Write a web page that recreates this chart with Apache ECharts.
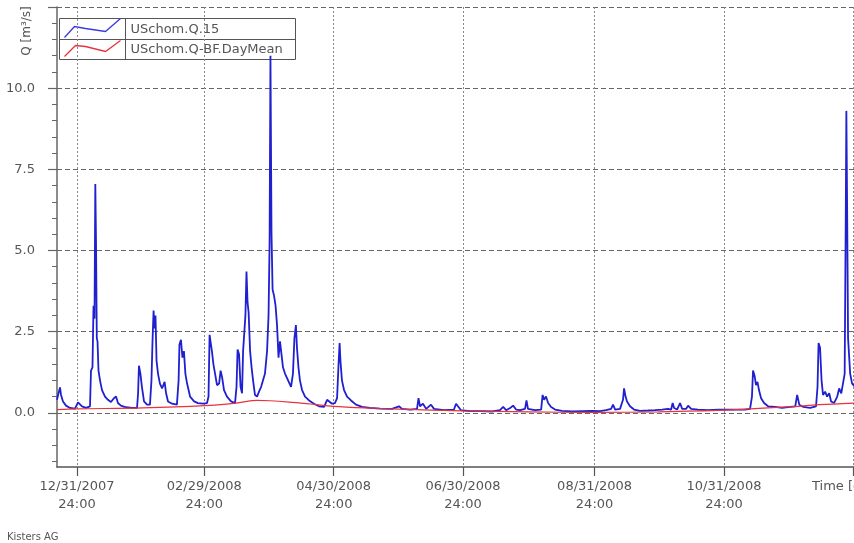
<!DOCTYPE html>
<html><head><meta charset="utf-8">
<script src="https://cdn.jsdelivr.net/npm/echarts@6/dist/echarts.min.js"></script>
<style>html,body{margin:0;padding:0;background:#fff}#c{width:854px;height:543px}</style>
</head><body><div id="c"></div>
<script>
const seriesNames = ['USchom.Q.15', 'USchom.Q-BF.DayMean'];

// x values: days since 2008-01-01 00:00 (= 12/31/2007 24:00)
const qDays = [-9.43,-8.72,-8.0,-7.54,-6.6,-5.19,-3.3,-0.94,0.47,1.41,2.36,4.24,6.13,6.6,7.3,7.78,8.25,8.63,8.96,9.33,9.67,10.14,10.84,11.79,13.2,14.6,16.0,17.4,18.4,19.3,20.7,23.1,25.9,28.3,28.8,29.2,29.9,30.6,31.6,33.0,34.4,35.1,35.6,36.1,36.5,37.0,37.5,38.2,39.1,40.1,41.3,42.0,42.9,44.8,47.1,47.9,48.3,49.0,49.7,50.4,51.1,51.9,53.3,55.2,57.0,59.4,61.3,62.0,62.5,63.2,63.6,64.3,65.1,66.0,67.0,67.7,68.4,69.3,70.7,72.6,74.5,75.2,75.7,76.4,77.1,77.8,78.3,79.0,79.4,79.9,80.4,80.9,81.6,82.3,83.0,83.9,84.9,85.8,86.8,87.7,88.6,89.6,90.3,90.8,91.2,91.7,92.2,92.9,93.6,94.3,95.0,95.7,96.4,97.1,98.1,99.5,100.9,101.8,102.5,103.2,103.7,104.4,105.1,106.1,107.5,109.4,111.7,114.1,116.5,117.9,118.8,120.2,121.6,122.6,123.3,123.8,124.2,124.9,125.9,127.3,129.2,131.5,134.4,138.1,142.9,148.5,151.8,153.2,157.0,160.3,161.0,161.7,163.1,164.6,166.9,168.3,173.0,177.7,178.7,179.6,181.0,185.3,190.0,195.7,199.4,200.9,202.3,204.2,205.6,207.0,208.9,211.2,211.9,212.6,215.9,218.8,219.5,220.2,221.1,222.1,223.5,225.4,228.7,233.4,238.1,242.8,246.6,249.4,251.8,252.7,253.7,256.0,257.4,257.9,258.6,259.3,260.7,262.6,265.5,269.2,272.5,275.8,278.6,280.1,280.8,281.5,282.9,284.3,285.3,287.1,288.1,289.5,292.8,297.5,302.2,306.9,311.6,314.9,317.3,318.2,318.7,319.4,320.1,320.8,321.5,322.5,323.9,325.8,329.1,332.4,336.2,338.6,339.5,340.5,342.4,345.6,348.4,349.1,349.6,350.3,351.0,351.7,352.7,353.6,354.6,355.5,356.9,358.4,359.3,360.3,361.2,361.9,362.4,362.7,363.1,363.5,364.5,365.4,366.8];
const qValues = [0.4,0.6,0.78,0.55,0.35,0.22,0.15,0.13,0.32,0.35,0.2,0.15,0.2,1.3,1.4,3.3,2.9,7.05,5.3,2.3,2.2,1.3,1.0,0.7,0.5,0.4,0.33,0.45,0.5,0.3,0.22,0.17,0.15,0.15,0.6,1.45,1.2,0.8,0.35,0.25,0.25,1.0,2.2,3.15,2.6,3.0,1.6,1.2,0.9,0.75,0.95,0.6,0.35,0.28,0.25,1.0,2.1,2.25,1.7,1.9,1.2,0.9,0.5,0.35,0.3,0.28,0.3,0.5,2.4,2.35,1.9,1.5,1.2,0.85,0.9,1.3,1.1,0.7,0.5,0.35,0.3,0.8,1.95,1.8,0.8,0.6,1.9,2.6,3.0,4.35,3.4,3.1,1.9,1.4,1.0,0.55,0.5,0.65,0.8,1.0,1.2,1.9,3.0,5.3,11.0,5.5,3.8,3.6,3.3,2.7,1.7,2.2,1.8,1.4,1.2,1.0,0.8,1.2,2.3,2.7,2.0,1.4,1.0,0.7,0.5,0.38,0.28,0.2,0.18,0.4,0.35,0.28,0.3,0.45,1.5,2.15,1.6,1.0,0.7,0.5,0.38,0.25,0.18,0.15,0.13,0.12,0.2,0.12,0.1,0.12,0.45,0.2,0.28,0.12,0.25,0.12,0.08,0.1,0.28,0.2,0.08,0.05,0.05,0.04,0.08,0.18,0.08,0.15,0.22,0.1,0.08,0.12,0.38,0.12,0.08,0.1,0.55,0.4,0.5,0.3,0.18,0.1,0.06,0.04,0.05,0.06,0.05,0.08,0.12,0.25,0.1,0.12,0.4,0.75,0.5,0.35,0.2,0.1,0.06,0.07,0.08,0.1,0.12,0.1,0.3,0.15,0.1,0.3,0.12,0.12,0.22,0.12,0.1,0.08,0.1,0.1,0.1,0.1,0.12,0.5,1.3,1.15,0.85,0.95,0.7,0.45,0.3,0.2,0.18,0.15,0.18,0.2,0.55,0.25,0.18,0.15,0.2,0.8,2.15,2.0,1.0,0.55,0.65,0.5,0.6,0.35,0.3,0.5,0.75,0.6,0.55,1.2,5.9,9.3,6.0,2.3,1.2,0.9,0.8];

const bfDays = [-9.43,0,31,60,75,85,91,100,110,121,140,152,182,213,244,274,305,335,350,366.8];
const bfValues = [0.1,0.12,0.15,0.22,0.3,0.38,0.37,0.33,0.27,0.2,0.14,0.11,0.06,0.03,0.01,0.03,0.08,0.18,0.25,0.3];

const xTickDays = [0,60,121,182,244,305,366];
const xLabelDays = [0,60,121,182,244,305];
const xTickLabels = ['12/31/2007\n24:00','02/29/2008\n24:00','04/30/2008\n24:00','06/30/2008\n24:00','08/31/2008\n24:00','10/31/2008\n24:00'];
const yMajorTicks = [0,2.5,5,7.5,10,12.5];
const yLabelTicks = [0,2.5,5,7.5,10];
const yMinorTicks = [-1.5,-1,-0.5,0,0.5,1,1.5,2,2.5,3,3.5,4,4.5,5,5.5,6,6.5,7,7.5,8,8.5,9,9.5,10,10.5,11,11.5,12,12.5];

const qData = qDays.map((d, i) => [d, qValues[i]]);
const bfData = bfDays.map((d, i) => [d, bfValues[i]]);

const FONT = 'DejaVu Sans';
const TXT = '#555';
const chart = echarts.init(document.getElementById('c'), null, {renderer: 'canvas'});
chart.setOption({
  animation: false,
  backgroundColor: '#fff',
  grid: {left: 57, right: 0, top: 7, bottom: 76, containLabel: false},
  xAxis: {
    type: 'value', min: -9.43, max: 366.3,
    axisLine: {show: true, onZero: false, lineStyle: {color: '#555', width: 1.5}},
    axisTick: {show: true, length: 9, customValues: xTickDays, lineStyle: {color: '#555', width: 1.2}},
    axisLabel: {
      customValues: xLabelDays, margin: 11, color: TXT, fontFamily: FONT, fontSize: 13, lineHeight: 18,
      formatter: v => xTickLabels[xLabelDays.indexOf(Math.round(v))] || ''
    },
    splitLine: {show: true, lineStyle: {color: '#888', type: [2, 2], width: 1}}
  },
  yAxis: [{
    type: 'value', min: -1.67, max: 12.5,
    axisLine: {show: true, onZero: false, lineStyle: {color: '#666', width: 1.5}},
    axisTick: {show: true, length: 9, customValues: yMajorTicks, lineStyle: {color: '#666', width: 1.2}},
    axisLabel: {customValues: yLabelTicks, margin: 22, color: TXT, fontFamily: FONT, fontSize: 13,
      formatter: v => v.toFixed(1)},
    splitLine: {show: true, lineStyle: {color: '#666', type: [5, 3], width: 1}}
  }, {
    type: 'value', min: -1.67, max: 12.5, position: 'left',
    axisLine: {show: false, onZero: false},
    axisTick: {show: true, length: 5, customValues: yMinorTicks, lineStyle: {color: '#666', width: 1}},
    axisLabel: {show: false},
    splitLine: {show: false}
  }],
  series: [{
    name: seriesNames[0], type: 'line', data: qData, showSymbol: false, yAxisIndex: 0,
    lineStyle: {color: '#2020d0', width: 1.8}, itemStyle: {color: '#2020d0'}, z: 2
  }, {
    name: seriesNames[1], type: 'line', data: bfData, showSymbol: false, yAxisIndex: 0, smooth: 0.3,
    lineStyle: {color: '#e8323c', width: 1.2}, itemStyle: {color: '#e8323c'}, z: 3
  }],
  graphic: [
    {type: 'group', left: 57, top: 16, z: 100, children: [
      {type: 'rect', shape: {x: 0, y: 0, width: 236, height: 41}, style: {fill: '#fff', stroke: '#555', lineWidth: 1}},
      {type: 'line', shape: {x1: 0, y1: 21, x2: 236, y2: 21}, style: {stroke: '#555', lineWidth: 1}},
      {type: 'line', shape: {x1: 66, y1: 0, x2: 66, y2: 41}, style: {stroke: '#555', lineWidth: 1}},
      {type: 'polyline', shape: {points: [[5,19],[15,8],[26,10],[46,13],[61,0]]}, style: {stroke: '#3a3ae0', lineWidth: 1.3, fill: null}},
      {type: 'polyline', shape: {points: [[5,38],[16,27],[26,28],[46,33],[61,22]]}, style: {stroke: '#e8323c', lineWidth: 1.3, fill: null}},
      {type: 'text', x: 71, y: 11, style: {text: seriesNames[0], fill: TXT, font: '13px ' + FONT, verticalAlign: 'middle'}},
      {type: 'text', x: 71, y: 31, style: {text: seriesNames[1], fill: TXT, font: '13px ' + FONT, verticalAlign: 'middle'}}
    ]},
    {type: 'text', x: 27, y: 31, rotation: Math.PI / 2, z: 100,
      style: {text: 'Q [m³/s]', fill: TXT, font: '12px ' + FONT, align: 'center', verticalAlign: 'middle'}},
    {type: 'text', x: 812, y: 487, z: 100,
      style: {text: 'Time [d]', fill: TXT, font: '13px ' + FONT, verticalAlign: 'middle'}},
    {type: 'text', x: 7, y: 537, z: 100,
      style: {text: 'Kisters AG', fill: TXT, font: '10px ' + FONT, verticalAlign: 'middle'}}
  ]
});
</script></body></html>
